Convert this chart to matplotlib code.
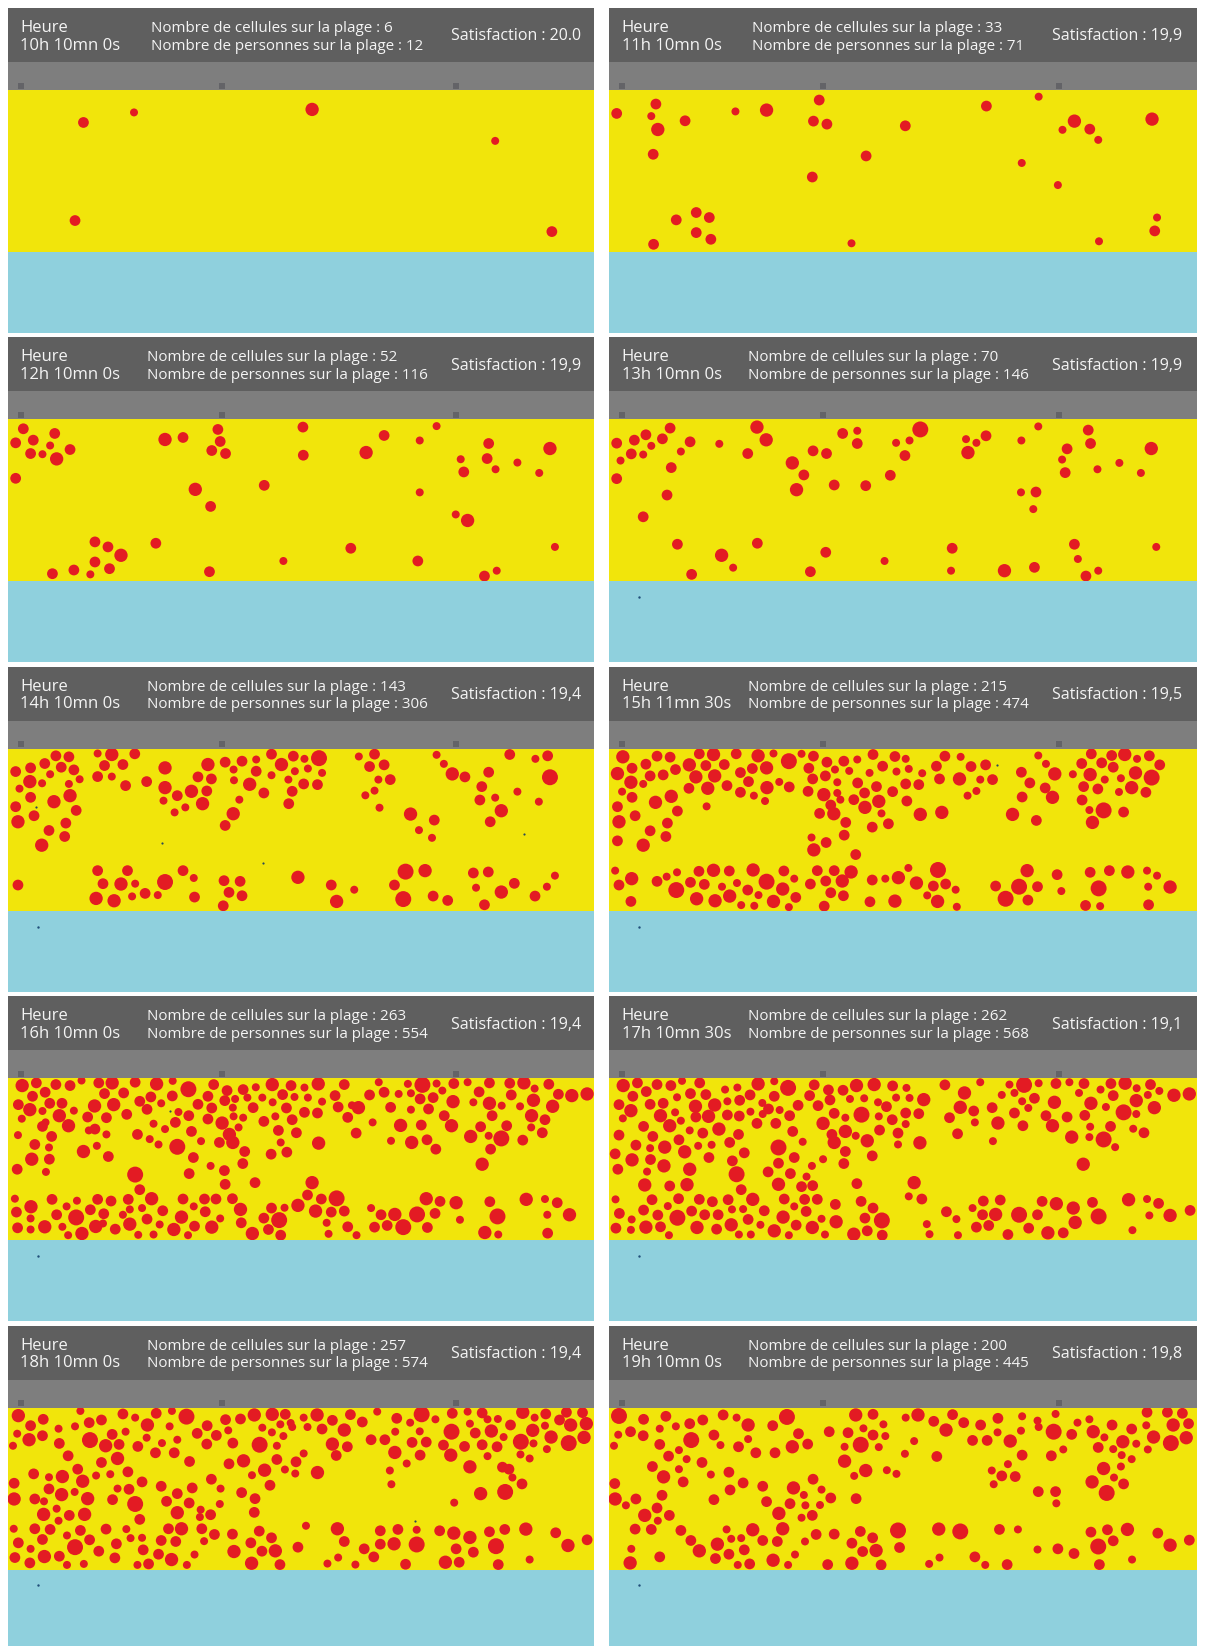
import matplotlib
matplotlib.use("Agg")
import matplotlib.pyplot as plt

plt.rcParams['font.family'] = ['Open Sans', 'DejaVu Sans']

# ---------------- DATA ----------------
heures = ["10h 10mn 0s", "11h 10mn 0s", "12h 10mn 0s", "13h 10mn 0s", "14h 10mn 0s",
          "15h 11mn 30s", "16h 10mn 0s", "17h 10mn 30s", "18h 10mn 0s", "19h 10mn 0s"]
nb_cellules = [6, 33, 52, 70, 143, 215, 263, 262, 257, 200]
nb_personnes = [12, 71, 116, 146, 306, 474, 554, 568, 574, 445]
satisfaction = ["20.0", "19,9", "19,9", "19,9", "19,4", "19,5", "19,4", "19,1", "19,4", "19,8"]

# beach coordinate frame (x along the shore, y from the promenade to the sea)
plage_x = (18, 1548)
plage_y = (268, 752)
acces_x = [53, 576, 1188]          # beach entrances on the promenade

# cells: (x, y, persons-size class)
cells_10h = [(215,365,2),(347,335,1),(812,326,3),(1290,420,1),(193,658,2),(1438,691,2)]

cells_11h = [(38,338,2),(140,310,2),(128,346,1),(145,386,3),(216,360,2),(133,460,2),(347,332,1),
             (428,328,3),(565,298,2),(550,361,2),(585,370,2),(789,375,2),(687,465,2),(547,528,2),
             (1000,316,2),(1136,288,1),(1229,361,3),(1198,387,1),(1269,385,2),(1291,417,1),
             (1431,355,3),(1092,486,1),(1186,552,1),(193,656,2),(245,634,2),(279,649,2),(245,694,2),
             (283,714,2),(134,729,2),(649,726,1),(1293,720,1),(1444,649,1),(1438,689,2)]

cells_12h = [(58,296,2),(38,338,2),(84,330,2),(140,310,2),(128,346,1),(108,372,1),(77,370,2),
             (145,386,3),(180,358,2),(38,444,2),(428,328,3),(475,322,2),(566,298,2),(572,334,2),
             (550,361,2),(586,370,2),(788,291,2),(789,375,2),(953,367,3),(1000,316,2),(1093,331,1),
             (1137,288,1),(507,477,3),(687,465,2),(547,528,2),(1093,486,1),(1273,340,2),(1433,355,3),
             (1200,387,1),(1269,385,2),(1208,425,2),(1291,417,1),(1348,397,1),(1405,428,1),
             (1187,552,1),(1218,570,3),(245,634,2),(279,649,2),(313,674,3),(245,694,2),(283,714,2),
             (190,718,2),(134,729,2),(233,731,1),(404,638,2),(544,723,2),(737,691,1),(913,653,2),
             (1088,691,2),(1262,736,2),(1294,720,1),(1446,649,1)]

cells_13h = [(38,339,2),(84,330,2),(114,314,2),(128,347,1),(157,326,2),(177,294,2),(48,391,1),
             (76,371,2),(107,373,1),(205,364,1),(229,335,2),(38,445,2),(180,412,2),(169,494,2),
             (107,559,2),(305,341,1),(403,291,3),(427,329,3),(379,370,2),(495,398,3),(525,434,2),
             (506,478,3),(549,362,2),(584,370,2),(604,464,2),(626,310,2),(664,302,1),(664,340,2),
             (686,466,2),(750,435,2),(765,338,1),(800,331,1),(828,298,4),(788,376,2),(947,327,1),
             (974,338,1),(999,317,2),(952,367,3),(1091,331,1),(1135,289,1),(1090,486,1),(1129,485,2),
             (1122,536,1),(1265,300,2),(1271,340,2),(1210,356,2),(1197,388,1),(1205,427,2),
             (1289,417,1),(1346,398,1),(1402,428,1),(1429,355,3),(196,641,2),(311,674,3),(341,711,1),
             (233,731,2),(404,638,2),(582,665,2),(542,723,2),(735,691,1),(911,653,2),(908,720,1),
             (1047,720,3),(1125,710,2),(1229,641,2),(1238,685,1),(1259,736,2),(1291,720,1),
             (1442,649,1)]

cells_14h = [(38,336,2),(77,325,2),(114,312,2),(143,289,2),(177,292,2),(157,323,2),(190,331,2),
             (128,344,1),(48,387,1),(75,366,3),(107,371,1),(177,373,1),(205,359,1),(180,408,3),
             (77,413,2),(138,426,3),(38,441,2),(86,468,2),(196,452,2),(44,486,3),(169,490,2),
             (125,512,2),(166,530,2),(106,556,3),(252,282,1),(289,285,3),(349,283,2),(270,318,2),
             (318,315,2),(252,351,2),(289,351,1),(325,378,2),(380,366,2),(428,325,3),(428,384,3),
             (460,408,2),(497,395,3),(424,423,1),(453,458,1),(481,443,1),(526,432,3),(540,315,3),
             (514,352,2),(549,358,2),(537,394,2),(585,308,2),(607,330,1),(629,305,2),(666,300,1),
             (706,284,2),(666,335,2),(706,347,1),(608,362,1),(649,374,3),(686,400,2),(622,420,1),
             (606,462,3),(585,497,2),(732,315,3),(763,290,2),(792,298,1),(830,296,4),(767,335,1),
             (801,327,1),(838,340,1),(750,360,1),(790,373,2),(760,395,2),(826,375,2),(751,432,2),
             (934,291,1),(975,284,2),(962,321,2),(1000,316,2),(985,360,1),(1016,360,2),(975,393,1),
             (951,407,1),(988,444,1),(1137,286,1),(1156,313,1),(1178,343,3),(1211,352,2),
             (1273,338,2),(1328,285,2),(1395,298,1),(1427,289,2),(1433,353,4),(1255,381,2),
             (1290,414,1),(1250,421,2),(1348,396,1),(1404,426,1),(1306,453,3),(1277,486,2),
             (1069,463,3),(1131,481,2),(1091,511,1),(1125,534,1),
             (44,675,2),(252,632,2),(330,632,2),(266,671,2),(313,672,3),(350,671,1),(248,715,3),
             (295,722,3),(342,709,1),(376,700,2),(409,705,1),(428,666,4),(475,632,2),(503,654,1),
             (505,711,2),(582,662,2),(624,664,2),(595,697,2),(629,707,2),(580,737,2),(775,652,3),
             (862,675,2),(922,689,1),(876,724,3),(1056,635,4),(1107,632,3),(1027,675,2),(1050,717,4),
             (1128,708,2),(1166,721,2),(1233,639,2),(1272,636,2),(1240,683,1),(1340,670,2),
             (1306,696,3),(1262,734,2),(1394,708,2),(1425,680,1),(1446,647,1)]

cells_15h = [(54,292,3),(40,342,3),(78,326,2),(114,314,2),(143,290,2),(177,293,2),(191,330,2),
             (159,346,2),(125,349,2),(75,368,3),(107,373,1),(52,396,1),(78,413,2),(40,441,2),
             (139,428,3),(180,410,3),(196,454,2),(86,468,2),(44,486,3),(170,490,2),(125,513,2),
             (166,530,2),(40,543,2),(107,556,3),(227,316,3),(253,283,2),(290,285,3),(270,318,2),
             (318,315,2),(349,283,2),(244,352,3),(293,349,3),(226,386,2),(275,386,3),(325,378,2),
             (360,339,2),(381,366,2),(391,327,2),(406,289,3),(428,325,3),(446,282,1),(486,305,4),
             (519,283,1),(461,367,1),(487,382,2),(429,384,3),(395,408,1),(424,424,1),(360,398,2),
             (272,440,1),(550,290,2),(538,326,2),(585,308,2),(606,330,1),(629,305,2),(664,300,1),
             (705,285,2),(762,291,2),(790,298,1),(581,349,2),(548,358,2),(612,368,1),(643,334,1),
             (665,370,2),(696,340,1),(730,320,2),(766,336,1),(798,328,1),(833,341,1),(536,395,2),
             (577,405,3),(612,400,1),(655,420,2),(683,400,2),(714,381,2),(756,396,2),(790,373,2),
             (824,375,2),(720,425,3),(793,424,2),(595,436,2),(620,420,1),(684,443,3),(566,461,2),
             (603,462,3),(634,488,2),(727,461,1),(745,492,2),(703,502,2),(828,464,3),(884,458,3),
             (630,526,2),(545,533,1),(551,570,3),(583,548,2),(660,584,2),(870,320,2),(892,290,2),
             (933,292,1),(960,321,2),(998,316,2),(878,358,2),(930,358,3),(984,360,1),(1016,360,2),
             (974,394,1),(951,408,1),(1135,288,1),(1155,313,1),(1091,338,2),(1113,370,2),
             (1178,343,3),(1153,385,2),(1172,413,3),(1093,412,2),(1068,464,3),(1130,482,2),
             (1273,283,2),(1300,310,2),(1326,288,2),(1360,285,3),(1392,298,1),(1424,289,2),
             (1451,316,2),(1248,312,2),(1330,323,2),(1225,344,1),(1270,345,3),(1308,360,1),
             (1350,356,1),(1388,340,3),(1430,354,4),(1253,381,2),(1290,388,2),(1345,397,1),
             (1378,384,3),(1415,398,2),(1249,421,2),(1268,451,1),(1305,452,4),(1357,457,2),
             (1276,488,3),
             (34,632,1),(77,656,3),(44,675,2),(75,724,2),(143,664,2),(168,650,1),(195,637,1),
             (193,690,4),(230,667,2),(252,634,2),(266,673,2),(290,631,3),(246,716,3),(294,722,3),
             (331,633,2),(312,680,1),(351,669,1),(332,708,3),(362,735,1),(379,690,2),(393,630,3),
             (407,705,1),(428,665,4),(396,737,1),(446,724,3),(473,633,2),(470,687,3),(500,656,1),
             (504,712,2),(486,741,1),(542,672,2),(560,632,2),(582,663,2),(604,632,2),(625,663,3),
             (648,636,3),(595,698,2),(628,707,2),(578,738,2),(703,660,2),(737,656,1),(771,653,3),
             (797,624,1),(818,669,3),(862,678,2),(874,630,4),(894,672,2),(920,689,1),(846,706,1),
             (873,724,3),(923,740,1),(697,725,2),(762,723,3),(1024,678,2),(1050,716,4),(1085,680,4),
             (1106,632,3),(1133,680,2),(1108,720,2),(1184,644,2),(1195,693,1),(1270,637,2),
             (1292,685,4),(1320,632,2),(1368,636,3),(1418,632,1),(1444,647,1),(1421,680,1),
             (1478,681,3),(1258,736,2),(1296,738,1),(1422,734,2)]

cells_16h = [(55,290,3),(92,282,2),(143,287,2),(180,290,2),(210,275,1),(255,282,2),(290,282,3),
             (350,280,2),(406,285,3),(448,276,1),(489,301,4),(555,287,2),(590,305,2),(632,302,2),
             (665,295,1),(708,287,3),(757,290,2),(792,296,1),(828,285,3),(896,287,2),(986,280,1),
             (1062,285,1),(1100,288,4),(1137,284,1),(1182,284,2),(1218,280,1),(1275,282,2),
             (1328,283,2),(1365,282,3),(1393,299,1),(1430,286,2),(82,322,2),(115,310,2),(45,347,2),
             (75,362,3),(108,366,1),(127,343,2),(159,343,2),(190,365,1),(152,380,3),(116,400,1),
             (54,389,1),(244,351,3),(270,314,2),(320,312,2),(294,347,3),(328,376,2),(362,337,2),
             (391,324,2),(418,343,1),(447,321,2),(381,361,2),(463,369,1),(490,380,2),(514,346,2),
             (540,322,2),(550,357,2),(584,335,2),(611,330,1),(643,326,1),(682,326,1),(709,340,1),
             (735,317,2),(766,324,1),(801,326,1),(838,338,1),(872,320,2),(880,354,2),(916,349,1),
             (933,356,3),(962,318,2),(1000,310,2),(1038,315,1),(1070,313,1),(1094,330,2),
             (1128,326,2),(1152,305,1),(1180,338,3),(1233,340,1),(1248,309,2),(1275,343,3),
             (1332,318,2),(1307,350,1),(1355,352,1),(1390,334,3),(1440,352,3),(1455,316,2),
             (1490,320,3),(1530,315,3),(1017,355,2),(1116,360,2),(1070,362,1),
             (226,384,2),(275,386,2),(245,420,2),(176,410,3),(229,424,1),(108,412,2),(44,438,1),
             (132,442,2),(88,466,2),(125,475,1),(80,510,3),(126,510,2),(42,540,2),(117,548,1),
             (215,487,3),(250,470,1),(280,502,2),(275,436,1),(356,436,2),(388,450,1),(411,466,1),
             (398,404,1),(428,420,1),(455,400,2),(460,473,4),(497,427,2),(502,505,2),(522,456,1),
             (491,553,2),(547,530,1),(583,544,2),(585,585,2),(663,580,2),(540,390,2),(577,402,3),
             (605,356,1),(632,386,1),(607,382,1),(658,356,2),(686,397,2),(716,382,1),(745,357,2),
             (760,392,2),(792,370,2),(826,372,2),(724,424,2),(771,431,2),(596,436,3),(620,415,1),
             (570,460,2),(605,460,3),(636,487,2),(631,523,2),(705,495,2),(730,460,1),(746,489,2),
             (829,462,3),(812,580,3),(905,385,2),(927,432,2),(970,400,1),(1018,455,1),(1043,409,3),
             (1097,408,2),(1072,460,3),(1112,452,2),(1135,480,2),(1157,380,2),(1176,410,3),
             (1226,442,3),(1252,413,2),(1273,440,1),(1306,448,4),(1320,410,2),(1282,380,2),
             (1362,453,2),(1385,380,3),(1420,392,2),(1413,431,2),(1384,415,1),(1278,480,2),
             (1256,525,3),(350,556,4),(362,601,2),
             (36,628,1),(78,652,3),(40,668,2),(43,715,2),(77,687,1),(77,720,1),(114,712,3),
             (133,630,2),(145,676,2),(171,651,1),(198,634,1),(196,684,4),(233,661,2),(252,630,2),
             (268,673,2),(287,635,2),(266,702,1),(247,711,3),(211,732,3),(175,737,1),(160,712,1),
             (298,719,2),(318,676,1),(332,630,2),(336,660,1),(336,704,3),(358,736,1),(368,656,1),
             (381,689,2),(393,628,3),(422,664,2),(414,705,1),(398,735,1),(451,720,3),(475,629,2),
             (471,683,3),(503,651,1),(505,710,2),(488,737,1),(531,629,2),(561,629,2),(533,667,2),
             (572,687,1),(550,713,3),(604,628,2),(625,660,3),(627,700,2),(656,732,3),(686,686,2),
             (706,656,2),(726,692,4),(698,720,2),(730,737,2),(740,655,1),(775,648,3),(800,617,2),
             (821,665,3),(836,629,2),(876,627,4),(862,668,2),(896,665,2),(850,700,1),(905,712,2),
             (855,733,1),(928,737,1),(966,656,1),(992,676,2),(975,713,2),(1008,708,2),(1028,675,3),
             (1050,713,4),(1086,675,4),(1110,628,3),(1146,636,2),(1113,714,2),(1133,672,2),
             (1188,640,3),(1198,691,1),(1276,637,2),(1296,681,4),(1263,729,3),(1298,735,1),
             (1371,630,3),(1420,629,1),(1452,640,2),(1426,676,1),(1484,676,3),(1427,731,2)]

cells_17h = [(55,290,3),(92,282,2),(143,287,2),(179,290,2),(208,276,1),(254,282,2),(406,285,3),
             (448,277,1),(484,297,4),(552,288,2),(589,303,2),(627,304,2),(662,290,3),(708,287,3),
             (756,291,2),(792,297,1),(892,288,2),(984,280,1),(1060,287,1),(1098,288,4),(1136,283,1),
             (1181,284,2),(1216,280,1),(1254,284,2),(1324,284,2),(1361,283,3),(1391,298,1),
             (1427,287,2),(1488,319,3),(1528,315,3),(80,322,2),(115,308,2),(44,347,2),(75,365,3),
             (125,346,2),(159,343,2),(195,325,1),(230,314,2),(270,317,2),(243,352,3),(293,348,3),
             (320,302,1),(352,296,1),(326,337,1),(358,334,2),(385,318,2),(417,342,1),(448,322,2),
             (462,363,1),(540,320,2),(510,349,2),(562,350,2),(593,333,2),(645,330,1),(682,328,1),
             (718,340,1),(740,353,2),(765,326,1),(800,327,1),(837,332,3),(943,312,3),(1040,318,1),
             (1073,312,1),(1093,337,1),(1125,328,2),(1177,340,3),(1241,312,1),(1272,343,3),
             (1297,302,1),(1330,320,2),(1390,335,3),(1420,318,1),(1450,306,1),(932,355,3),
             (967,366,2),(1015,356,2),(1073,372,2),(1109,357,1),(1155,380,2),(1210,384,2),
             (1256,379,2),(1311,354,1),(1357,370,4),(1390,375,1),(1437,356,3),
             (152,380,3),(190,370,1),(108,412,2),(54,388,1),(44,438,2),(132,442,2),(176,410,3),
             (205,395,1),(228,424,1),(244,384,2),(277,382,3),(262,432,2),(304,420,3),(326,378,2),
             (357,381,2),(386,368,1),(418,375,1),(403,403,2),(433,360,2),(452,403,2),(488,380,2),
             (496,427,2),(355,436,2),(332,460,2),(285,467,1),(250,470,1),(215,488,3),(200,452,2),
             (163,474,3),(125,477,1),(88,468,2),(34,494,2),(78,512,3),(126,511,2),(41,540,2),
             (117,547,1),(161,530,3),(228,540,3),(278,505,2),(339,515,2),(370,491,2),(459,475,4),
             (500,505,2),(459,522,2),(432,548,2),(490,553,2),(522,458,1),(546,530,1),(575,510,1),
             (532,562,1),(519,592,2),(548,589,2),(459,585,3),(350,555,4),(362,601,2),(111,587,3),
             (176,590,2),(221,586,3),(575,403,3),(604,373,2),(633,386,1),(675,377,4),(720,382,1),
             (755,392,2),(790,372,2),(824,374,2),(790,405,1),(633,427,3),(598,436,2),(604,460,3),
             (660,440,1),(690,455,3),(722,423,2),(770,432,2),(827,461,3),(770,466,1),(633,487,2),
             (703,500,2),(629,523,2),(663,583,2),(812,580,3),(798,621,1),(832,629,2),(904,386,2),
             (925,434,2),(970,400,1),(1030,402,3),(1095,410,2),(1017,456,1),(1172,410,3),
             (1222,444,3),(1270,413,1),(1268,444,1),(1305,451,4),(1323,412,2),(1335,474,1),
             (1382,419,1),(1410,431,2),(1252,525,3),
             (35,630,1),(130,631,2),(45,672,2),(108,662,2),(77,690,1),(36,716,2),(75,721,1),
             (114,713,3),(152,712,2),(145,677,2),(171,650,1),(199,628,2),(196,685,4),(233,665,2),
             (253,630,2),(287,637,2),(267,676,2),(247,714,3),(174,737,1),(298,719,2),(302,676,2),
             (328,631,2),(338,660,1),(336,706,3),(356,735,1),(367,659,1),(380,690,2),(392,630,3),
             (422,664,2),(412,706,1),(387,735,1),(448,724,3),(474,629,2),(471,683,3),(500,651,1),
             (505,707,2),(486,737,1),(527,630,2),(531,666,2),(560,630,2),(571,688,1),(547,714,3),
             (580,735,1),(607,645,2),(609,697,3),(674,636,2),(705,656,2),(684,686,2),(728,693,4),
             (690,724,2),(655,734,3),(729,737,2),(896,667,2),(922,689,1),(845,704,1),(852,734,1),
             (926,737,1),(964,656,1),(992,635,2),(990,676,2),(1024,675,3),(1036,632,2),(974,713,2),
             (1006,708,2),(1056,735,2),(1085,676,4),(1110,716,2),(1133,676,2),(1145,636,2),
             (1182,643,3),(1226,656,3),(1231,699,3),(1200,730,2),(1160,730,3),(1276,639,2),
             (1292,681,4),(1370,631,3),(1418,629,1),(1448,642,2),(1424,678,1),(1478,678,3),
             (1530,663,2),(1380,722,1)]

cells_18h = [(45,292,3),(110,303,2),(77,322,2),(42,346,1),(73,364,3),(108,352,2),(150,331,1),
             (152,375,2),(31,382,1),(175,412,2),(207,278,1),(230,313,2),(193,324,1),(262,305,2),
             (232,365,4),(290,348,2),(325,340,1),(273,382,3),(308,378,2),(318,287,2),(350,298,1),
             (382,320,3),(405,285,2),(446,278,1),(484,295,4),(440,324,1),(380,358,1),(420,374,1),
             (357,384,2),(403,403,2),(452,403,2),(460,364,1),(512,345,2),(538,322,2),(537,377,2),
             (562,351,2),(492,429,2),(586,304,2),(593,336,1),(625,302,2),(605,374,2),(661,290,3),
             (708,288,3),(742,288,2),(756,314,1),(790,298,1),(825,290,3),(682,328,1),(707,342,1),
             (737,353,1),(729,318,1),(760,326,1),(800,326,1),(838,332,2),(865,306,2),(912,289,2),
             (943,311,2),(982,280,1),(675,379,4),(720,382,1),(865,377,3),(904,385,2),(896,335,3),
             (966,364,2),(1002,364,2),(1029,340,1),(1033,300,2),(1068,313,1),(1098,288,4),
             (1134,303,1),(1093,339,1),(1073,372,2),(1110,371,2),(1178,285,2),(1218,280,1),
             (1256,284,2),(1176,340,4),(1224,316,1),(1238,344,2),(1270,303,1),(1280,338,3),
             (1297,302,1),(1330,320,2),(1312,356,1),(1362,282,3),(1393,298,1),(1422,287,2),
             (1458,305,2),(1476,282,2),(1518,283,2),(1388,336,3),(1420,322,1),(1487,320,3),
             (1528,316,3),(1436,356,3),(1522,357,3),(1482,374,4),(1357,370,4),(1390,375,1),
             (1155,380,2),(1210,384,2),(1256,379,2),(1295,385,2),(1028,402,3),(1094,410,2),
             (1174,410,3),(1270,413,1),(1356,408,1),(1380,420,1),(1425,392,1),(1326,452,2),
             (1360,496,2),(1309,446,2),(1335,477,1),(1316,520,4),(1252,525,3),(1224,445,3),
             (1059,435,1),(1015,456,1),(1019,497,1),(1183,552,1),(826,462,3),(875,411,2),
             (790,405,1),(770,430,2),(741,453,1),(768,465,1),(720,423,2),(688,455,3),(655,470,1),
             (633,427,3),(595,436,2),(702,500,2),(628,522,2),(663,540,2),(661,581,2),(573,510,1),
             (549,482,2),(499,508,2),(460,525,2),(491,553,2),(432,548,2),(460,582,3),(521,573,1),
             (547,588,2),(571,556,1),(519,595,1),(418,503,2),(368,490,2),(334,512,2),(304,510,1),
             (291,543,2),(350,556,4),(362,602,2),(331,460,2),(285,467,1),(248,471,1),(213,488,3),
             (200,452,2),(262,432,2),(304,420,3),(160,474,3),(125,476,1),(85,466,2),(34,494,2),
             (125,511,2),(88,541,2),(34,541,3),(112,548,1),(158,528,3),(192,520,1),(226,540,3),
             (111,587,3),(145,570,1),(178,590,2),(218,587,3),(150,606,1),
             (33,630,1),(88,630,2),(128,632,2),(45,672,2),(108,662,2),(77,690,1),(36,716,2),
             (75,732,2),(113,713,3),(152,712,2),(172,650,1),(207,635,2),(193,685,4),(231,663,2),
             (172,738,1),(216,735,1),(255,697,2),(274,631,2),(301,675,2),(297,717,2),(327,631,1),
             (338,658,1),(368,657,1),(371,693,2),(356,738,1),(385,735,2),(411,706,2),(418,665,2),
             (445,722,3),(437,630,2),(471,630,3),(456,668,2),(485,738,1),(505,707,1),(524,630,2),
             (530,667,1),(557,647,2),(604,646,2),(608,698,3),(652,672,2),(674,637,2),(706,657,2),
             (681,697,2),(716,696,3),(654,733,3),(728,737,2),(775,685,2),(796,621,1),(878,630,3),
             (896,668,2),(948,690,2),(880,716,1),(852,734,1),(925,737,1),(973,714,2),(990,636,2),
             (990,676,2),(1026,675,3),(1036,632,2),(1085,633,1),(1085,677,4),(1056,736,2),
             (1145,636,2),(1182,643,3),(1224,656,3),(1188,690,2),(1233,700,2),(1196,730,2),
             (1160,730,3),(1275,639,2),(1315,632,2),(1292,682,4),(1298,737,2),(1370,631,3),
             (1380,722,1),(1448,642,2),(1480,680,3),(1530,663,2)]

cells_19h = [(44,293,4),(108,303,2),(166,294,2),(74,340,2),(42,349,1),(107,352,2),(150,331,1),
             (192,324,1),(228,316,2),(262,305,2),(315,290,2),(350,298,1),(380,320,3),(444,322,2),
             (481,296,4),(232,365,4),(291,350,2),(150,378,2),(31,382,1),(308,380,1),(355,385,2),
             (380,362,1),(400,403,2),(450,403,2),(495,385,3),(511,346,2),(535,377,2),(173,413,2),
             (200,395,1),(220,422,1),(260,432,2),(131,444,2),(200,452,1),(160,475,3),(211,490,2),
             (33,495,2),(34,541,3),(88,541,2),(62,560,1),(156,530,2),(283,468,1),(330,461,2),
             (367,493,2),(333,514,2),(291,543,2),(418,503,2),(428,549,2),(498,508,3),(525,529,1),
             (549,482,2),(571,513,1),(595,538,2),(567,559,1),(489,555,2),(529,560,1),(460,584,3),
             (519,597,1),(547,590,2),(143,568,2),(111,590,3),(175,590,2),(145,606,1),
             (591,340,2),(660,290,3),(705,288,2),(732,318,1),(640,343,2),(680,330,1),(705,350,2),
             (737,353,1),(673,379,4),(631,385,1),(720,386,1),(631,428,3),(686,456,3),(741,455,1),
             (766,466,1),(656,472,1),(661,540,2),(790,298,1),(822,290,3),(863,309,2),(895,335,3),
             (912,289,2),(941,313,2),(985,320,2),(964,366,2),(1002,366,2),(1029,342,1),(1030,300,2),
             (1062,368,3),(1090,337,1),(1093,294,1),(1133,307,1),(1136,326,1),(812,368,1),
             (788,406,1),(871,414,2),(1093,410,2),(1056,437,1),(1014,456,1),(1040,472,2),
             (1075,474,2),(1019,497,1),(1175,340,4),(1180,287,1),(1237,313,1),(1222,348,2),
             (1200,393,1),(1169,412,2),(1135,519,2),(1180,519,2),(1182,554,1),(1278,340,3),
             (1268,303,1),(1327,320,2),(1307,357,1),(1291,387,2),(1330,392,1),(1355,370,3),
             (1378,332,2),(1390,376,1),(1352,410,1),(1378,422,1),(1416,321,1),(1418,282,2),
             (1471,282,2),(1510,285,2),(1486,320,3),(1526,316,2),(1435,356,3),(1420,393,1),
             (1480,374,4),(1520,358,3),(1305,450,3),(1350,444,1),(1332,477,1),(1357,496,2),
             (1275,490,3),(1313,523,4),
             (86,631,2),(128,632,2),(205,635,2),(76,690,1),(150,714,2),(73,732,3),(231,665,2),
             (253,696,3),(300,676,3),(295,719,2),(324,632,1),(336,660,1),(330,706,2),(362,658,1),
             (370,693,2),(353,738,1),(384,735,2),(392,633,3),(418,665,2),(445,724,3),(470,630,3),
             (456,668,2),(502,707,1),(484,738,1),(528,668,1),(557,647,2),(604,646,2),(587,737,2),
             (650,673,2),(672,638,2),(704,657,2),(678,698,2),(713,695,3),(650,733,3),(726,738,2),
             (770,635,4),(774,686,2),(876,631,3),(932,638,4),(878,716,1),(851,735,1),(970,714,2),
             (997,738,1),(1034,632,2),(1082,632,1),(1054,737,2),(1133,692,1),(1186,690,2),
             (1228,704,2),(1272,640,2),(1315,633,2),(1330,666,2),(1291,683,4),(1294,737,2),
             (1367,632,3),(1379,722,1),(1446,643,2),(1478,679,3),(1528,664,2)]

cells = [cells_10h, cells_11h, cells_12h, cells_13h, cells_14h,
         cells_15h, cells_16h, cells_17h, cells_18h, cells_19h]

# isolated pedestrians on the sand (tiny dark dots)
pietons = [[], [], [], [], [(92,443),(420,549),(684,610),(1365,523)],
           [(1028,316)], [(441,366)], [], [(1080,608)], []]
# swimmer in the sea (x position)
baigneurs = [None, None, None, 97, 97, 97, 97, 97, 97, 96]

# ---------------- STYLE / LAYOUT ----------------
W, H = 1205, 1646
C_HEAD = '#5f5f5f'
C_BAND = '#7e7e7e'
C_SAND = '#f1e50b'
C_SEA = '#8fd0dd'
C_RED = '#e31b23'
C_TXT = '#f4f4f4'
SIZE_PT2 = {1: 33, 2: 60, 3: 92, 4: 132}

fig = plt.figure(figsize=(W / 100, H / 100), dpi=100)
fig.patch.set_facecolor('white')
renderer = fig.canvas.get_renderer()


def add_ax(x, y_top, w, h, color):
    ax = fig.add_axes([x / W, 1 - (y_top + h) / H, w / W, h / H])
    ax.set_facecolor(color)
    ax.set_xticks([])
    ax.set_yticks([])
    for s in ax.spines.values():
        s.set_visible(False)
    return ax


col_x = [(8, 586), (609, 588)]
for i in range(10):
    row, col = divmod(i, 2)
    x0, pw = col_x[col]
    top = 8 + 329.4 * row
    # header
    hd = add_ax(x0, top, pw, 54, C_HEAD)
    hd.set_xlim(0, pw)
    hd.set_ylim(54, 0)
    hd.text(12.5, 24, "Heure", color=C_TXT, fontsize=12, va='baseline', ha='left')
    hd.text(12.5, 41.7, heures[i], color=C_TXT, fontsize=12, va='baseline', ha='left')
    l1 = hd.text(0, 24, f"Nombre de cellules sur la plage : {nb_cellules[i]}",
                 color=C_TXT, fontsize=10.9, va='baseline', ha='left')
    l2 = hd.text(0, 41.7, f"Nombre de personnes sur la plage : {nb_personnes[i]}",
                 color=C_TXT, fontsize=10.9, va='baseline', ha='left')
    w2 = l2.get_window_extent(renderer).width
    l1.set_x(279 - w2 / 2)
    l2.set_x(279 - w2 / 2)
    hd.text(443, 32.5, f"Satisfaction : {satisfaction[i]}",
            color=C_TXT, fontsize=11.5, va='baseline', ha='left')
    # promenade band with entrances
    bd = add_ax(x0, top + 54, pw, 28, C_BAND)
    bd.set_xlim(*plage_x)
    bd.set_ylim(0, 28)
    bd.scatter(acces_x, [4.5] * len(acces_x), marker='s', s=24, color='#636367', lw=0)
    # sand
    sd = add_ax(x0, top + 82, pw, 162, C_SAND)
    sd.set_xlim(*plage_x)
    sd.set_ylim(plage_y[1], plage_y[0])
    xs = [c[0] for c in cells[i]]
    ys = [c[1] for c in cells[i]]
    ss = [SIZE_PT2[c[2]] for c in cells[i]]
    sd.scatter(xs, ys, s=ss, color=C_RED, lw=0)
    if pietons[i]:
        sd.scatter([p[0] for p in pietons[i]], [p[1] for p in pietons[i]],
                   s=2.5, color='#2a4a5a', lw=0)
    # sea
    sea_h = 325 - 244 if row < 4 else H - (top + 244)
    se = add_ax(x0, top + 244, pw, sea_h, C_SEA)
    se.set_xlim(*plage_x)
    se.set_ylim(81, 0)
    if baigneurs[i] is not None:
        se.scatter([baigneurs[i]], [16], s=3, color='#1f4e79', lw=0)

fig.savefig('out.png', dpi=100, facecolor='white')
